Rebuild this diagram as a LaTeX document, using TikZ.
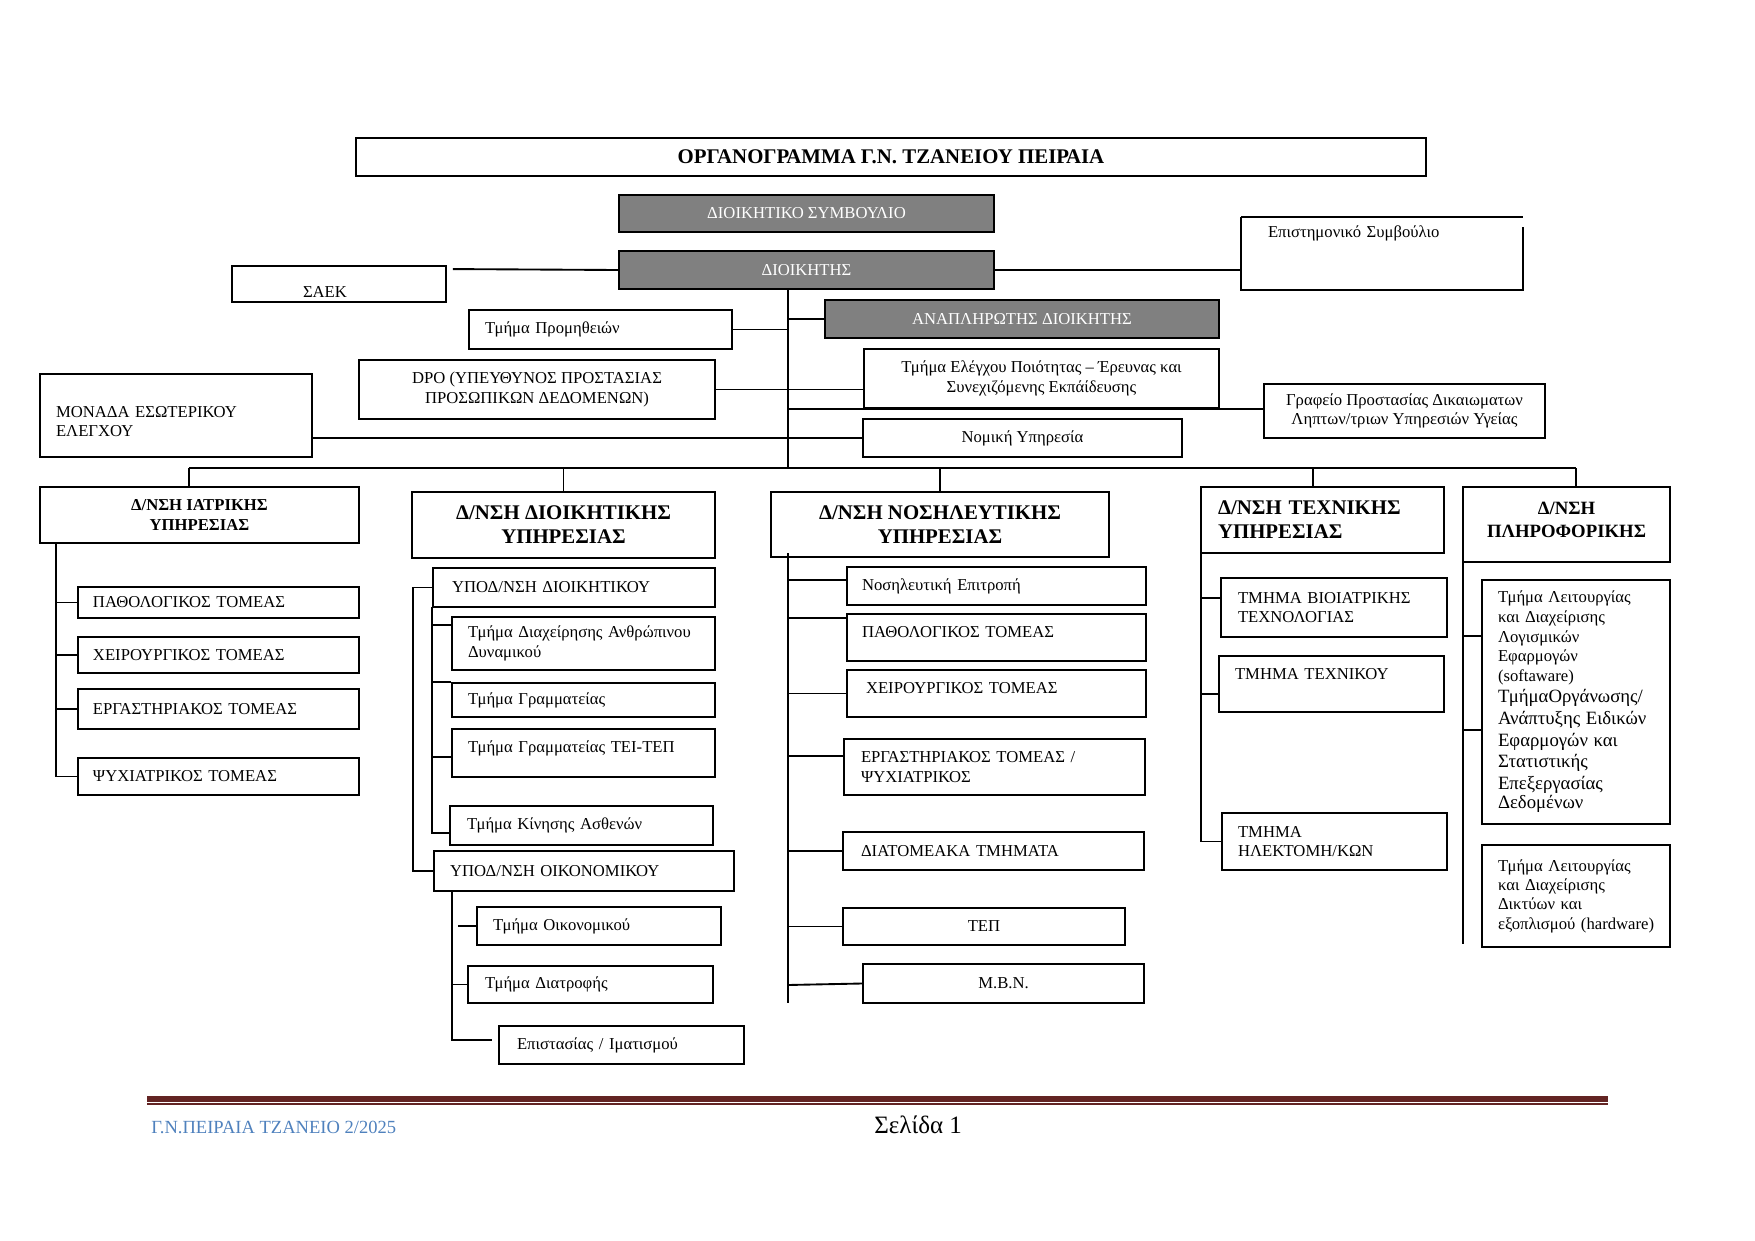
\documentclass[tikz,border=0pt]{standalone}
\usepackage{fontspec}
\setmainfont{Liberation Serif}
\usetikzlibrary{calc}
\definecolor{footred}{RGB}{99,36,35}
\definecolor{footblue}{RGB}{79,129,189}
\newcommand\px[1]{#1*0.48pt}
\newcommand\bxc[7][]{%
 \pgfmathsetlengthmacro\bxW{(#4-#2)*0.48pt}%
 \pgfmathsetlengthmacro\bxH{(#5-#3)*0.48pt}%
 \node[box,minimum width=\bxW,minimum height=\bxH,align=center,#1] (#6) at ({(#2+#4)/2},{(#3+#5)/2}) {#7};}
\newcommand\bxl[8][]{%
 \pgfmathsetlengthmacro\bxT{(#4-#2-2*#7)*0.48pt}%
 \pgfmathsetlengthmacro\bxP{#7*0.48pt}%
 \pgfmathsetlengthmacro\bxH{(#5-#3)*0.48pt}%
 \node[box,text width=\bxT,inner xsep=\bxP,minimum height=\bxH,align=left,#1] (#6) at ({(#2+#4)/2},{(#3+#5)/2}) {#8};}
\newcommand\tick[2]{\coordinate (tk) at (#1); \draw[ln] (tk) -- (tk -| #2);}
\tikzset{
 box/.style={draw=black,line width=0.9pt,fill=white,inner ysep=1pt,font=\fontsize{8}{9.3}\selectfont},
 gbox/.style={fill=black!50,text=white},
 hdr/.style={font=\bfseries\fontsize{10}{11.5}\selectfont},
 hdrs/.style={font=\bfseries\fontsize{8}{9.6}\selectfont},
 hdrp/.style={font=\bfseries\fontsize{9}{10.6}\selectfont},
 lift/.style={text height=6pt,text depth=#1},
 ln/.style={draw=black,line width=0.9pt},
}
\begin{document}
\begin{tikzpicture}[x=0.48pt,y=-0.48pt]
\useasboundingbox (0,0) rectangle (1755,1241);
% ---- top part
\bxc[font=\bfseries\fontsize{10}{12}\selectfont]{356}{138}{1426}{176}{title}{ΟΡΓΑΝΟΓΡΑΜΜΑ Γ.Ν. ΤΖΑΝΕΙΟΥ ΠΕΙΡΑΙΑ}
\bxc[gbox]{619}{195}{994}{232}{dsymb}{ΔΙΟΙΚΗΤΙΚΟ ΣΥΜΒΟΥΛΙΟ}
\bxc[gbox]{619}{251}{994}{289}{dioik}{ΔΙΟΙΚΗΤΗΣ}
\bxl[text height=13pt,text depth=0.5pt]{232}{266}{446}{302}{saek}{71}{ΣΑΕΚ}
\bxl[draw=none,text height=6pt,text depth=21.8pt]{1242}{218}{1522}{289}{epist}{26}{Επιστημονικό Συμβούλιο}
\draw[ln] (epist.north west) -- (epist.north east);
\draw[ln] ([yshift=\px{-10}]epist.north east) -- (epist.south east) -- (epist.south west) -- (epist.north west);
\bxc[gbox]{825}{300}{1219}{338}{anapl}{ΑΝΑΠΛΗΡΩΤΗΣ ΔΙΟΙΚΗΤΗΣ}
\bxl{469}{310}{732}{349}{prom}{16}{Τμήμα Προμηθειών}
\bxc{359}{360}{715}{419}{dpo}{DPO (ΥΠΕΥΘΥΝΟΣ ΠΡΟΣΤΑΣΙΑΣ\\ΠΡΟΣΩΠΙΚΩΝ ΔΕΔΟΜΕΝΩΝ)}
\bxc{864}{349}{1219}{408}{elegx}{Τμήμα Ελέγχου Ποιότητας – Έρευνας και\\Συνεχιζόμενης Εκπάίδευσης}
\bxc{1264}{384}{1545}{438}{grafeio}{Γραφείο Προστασίας Δικαιωματων\\Ληπτων/τριων Υπηρεσιών Υγείας}
\bxl[text height=11.1pt]{40}{374}{312}{457}{monada}{16}{ΜΟΝΑΔΑ ΕΣΩΤΕΡΙΚΟΥ\\ΕΛΕΓΧΟΥ}
\bxc{863}{419}{1182}{457}{nomiki}{Νομική Υπηρεσία}
% ---- directorates
\bxc[hdrs]{40}{487}{359}{543}{iatr}{Δ/ΝΣΗ ΙΑΤΡΙΚΗΣ\\ΥΠΗΡΕΣΙΑΣ}
\bxc[hdr]{412}{492}{715}{558}{dioikY}{Δ/ΝΣΗ ΔΙΟΙΚΗΤΙΚΗΣ\\ΥΠΗΡΕΣΙΑΣ}
\bxc[hdr]{771}{492}{1109}{557}{nosil}{Δ/ΝΣΗ ΝΟΣΗΛΕΥΤΙΚΗΣ\\ΥΠΗΡΕΣΙΑΣ}
\bxl[hdr]{1201}{487}{1444}{553}{techn}{17}{Δ/ΝΣΗ ΤΕΧΝΙΚΗΣ\\ΥΠΗΡΕΣΙΑΣ}
\bxl[hdrp,align=center,text height=6.2pt,text depth=15.4pt]{1463}{487}{1670}{562}{plir}{5}{Δ/ΝΣΗ\\ΠΛΗΡΟΦΟΡΙΚΗΣ}
% ---- medical
\bxl{78}{587}{359}{618}{pathI}{15}{ΠΑΘΟΛΟΓΙΚΟΣ ΤΟΜΕΑΣ}
\bxl{78}{637}{359}{673}{cheirI}{15}{ΧΕΙΡΟΥΡΓΙΚΟΣ ΤΟΜΕΑΣ}
\bxl{78}{689}{359}{729}{ergI}{15}{ΕΡΓΑΣΤΗΡΙΑΚΟΣ ΤΟΜΕΑΣ}
\bxl{78}{758}{359}{795}{psychI}{15}{ΨΥΧΙΑΤΡΙΚΟΣ ΤΟΜΕΑΣ}
% ---- administrative
\bxl{433}{568}{715}{607}{ypodD}{19}{ΥΠΟΔ/ΝΣΗ ΔΙΟΙΚΗΤΙΚΟΥ}
\bxl{452}{617}{715}{670}{diax}{16}{Τμήμα Διαχείρησης Ανθρώπινου\\Δυναμικού}
\bxl{452}{683}{715}{717}{gram}{16}{Τμήμα Γραμματείας}
\bxl[lift=6.3pt]{452}{729}{715}{777}{teitep}{16}{Τμήμα Γραμματείας ΤΕΙ-ΤΕΠ}
\bxl{450}{806}{713}{845}{kinisi}{17}{Τμήμα Κίνησης Ασθενών}
\bxl{434}{851}{734}{891}{ypodO}{16}{ΥΠΟΔ/ΝΣΗ ΟΙΚΟΝΟΜΙΚΟΥ}
\bxl{477}{907}{721}{945}{oikon}{16}{Τμήμα Οικονομικού}
\bxl{468}{966}{713}{1003}{diatr}{17}{Τμήμα Διατροφής}
\bxl{499}{1026}{744}{1064}{epistas}{18}{Επιστασίας / Ιματισμού}
% ---- nursing
\bxl{847}{567}{1146}{605}{nepitr}{15}{Νοσηλευτική Επιτροπή}
\bxl[lift=6.3pt]{847}{614}{1146}{661}{pathN}{15}{ΠΑΘΟΛΟΓΙΚΟΣ ΤΟΜΕΑΣ}
\bxl[lift=6.3pt]{847}{670}{1146}{717}{cheirN}{19}{ΧΕΙΡΟΥΡΓΙΚΟΣ ΤΟΜΕΑΣ}
\bxl{844}{739}{1145}{795}{ergN}{17}{ΕΡΓΑΣΤΗΡΙΑΚΟΣ ΤΟΜΕΑΣ /\\ΨΥΧΙΑΤΡΙΚΟΣ}
\bxl{843}{832}{1144}{870}{diatom}{18}{ΔΙΑΤΟΜΕΑΚΑ ΤΜΗΜΑΤΑ}
\bxc{843}{908}{1125}{945}{tep}{ΤΕΠ}
\bxc{863}{964}{1144}{1003}{mbn}{Μ.Β.Ν.}
% ---- technical
\bxl{1221}{578}{1447}{637}{bioi}{17}{ΤΜΗΜΑ ΒΙΟΙΑΤΡΙΚΗΣ\\ΤΕΧΝΟΛΟΓΙΑΣ}
\bxl[lift=10.6pt]{1219}{656}{1444}{712}{texnikou}{16}{ΤΜΗΜΑ ΤΕΧΝΙΚΟΥ}
\bxl{1222}{813}{1447}{870}{ilektr}{16}{ΤΜΗΜΑ\\ΗΛΕΚΤΟΜΗ/ΚΩΝ}
% ---- informatics
\bxl{1482}{580}{1670}{824}{logism}{16}{\fontsize{8}{9.4}\selectfont \mbox{Τμήμα Λειτουργίας}\\\mbox{και Διαχείρισης}\\Λογισμικών\\Εφαρμογών\\(softaware)\par\fontsize{9}{10.4}\selectfont ΤμήμαΟργάνωσης/\\\mbox{Ανάπτυξης Ειδικών}\\\mbox{Εφαρμογών και}\\Στατιστικής\\Επεξεργασίας\\Δεδομένων}
\bxl{1482}{845}{1670}{947}{hardw}{16}{\mbox{Τμήμα Λειτουργίας}\\\mbox{και Διαχείρισης}\\\mbox{Δικτύων και}\\\mbox{εξοπλισμού (hardware)}}
% ---- connectors top
\coordinate (tT) at (788,289);
\coordinate (tB) at (788,468);
\draw[ln] (tT) -- (tB);
\draw[ln] ([xshift=\px{6},yshift=\px{-4}]saek.north east) -- (dioik.west);
\draw[ln] (dioik.east) -- (dioik.east -| epist.west);
\draw[ln] (anapl.west) -- (anapl.west -| tT);
\draw[ln] (prom.east) -- (prom.east -| tT);
\draw[ln] (dpo.east) -- (dpo.east -| elegx.west);
\draw[ln] (tT |- elegx.south) -- (elegx.south -| grafeio.west);
\draw[ln] (monada.east |- nomiki.west) -- (nomiki.west);
% ---- bus
\coordinate (bL) at (189,468);
\coordinate (bR) at (1576,468);
\coordinate (bT) at (1313,468);
\draw[ln] (bL) -- (bR);
\draw[ln] (bL) -- (bL |- iatr.north);
\draw[ln] (dioikY.north) -- (dioikY.north |- bL);
\draw[ln] (nosil.north) -- (nosil.north |- bL);
\draw[ln] (bT) -- (bT |- techn.north);
\draw[ln] (bR) -- (bR |- plir.north);
% ---- medical connectors
\coordinate (vI) at (56,543);
\draw[ln] (vI) |- (psychI.west);
\foreach \n in {pathI,cheirI,ergI} {\draw[ln] (\n.west) -- (\n.west -| vI);}
% ---- administrative connectors
\coordinate (vDo) at (413,588);
\draw[ln] (ypodD.west) -- (ypodD.west -| vDo) |- (ypodO.west);
\coordinate (vDi) at (432,607);
\draw[ln] (vDi) |- ([yshift=\px{-7.5}]kinisi.west);
\tick{[yshift=\px{-9}]diax.north west}{vDi}
\tick{gram.north west}{vDi}
\tick{[yshift=\px{-4}]teitep.west}{vDi}
\coordinate (vOi) at (452,891);
\draw[ln] (vOi) |- ([xshift=\px{-6},yshift=\px{5}]epistas.west);
\draw[ln] (oikon.west) -- ([xshift=\px{-18}]oikon.west);
\tick{diatr.west}{vOi}
% ---- nursing connectors
\coordinate (vN) at (788,553);
\coordinate (vNe) at (788,1003);
\draw[ln] (vN) -- (vNe);
\tick{[yshift=\px{-14}]nepitr.north west}{vN}
\tick{[yshift=\px{-5}]pathN.north west}{vN}
\tick{cheirN.west}{vN}
\tick{[yshift=\px{-18}]ergN.north west}{vN}
\tick{diatom.west}{vN}
\tick{tep.west}{vN}
\draw[ln] (mbn.west) -- ([yshift=\px{-1.5}]mbn.west -| vN);
% ---- technical connectors
\coordinate (vT) at (1201,553);
\draw[ln] (vT) |- (ilektr.west);
\tick{[yshift=\px{-21}]bioi.north west}{vT}
\tick{[yshift=\px{-10}]texnikou.west}{vT}
% ---- informatics connectors
\coordinate (vP) at (1463,562);
\coordinate (vPe) at (1463,944);
\draw[ln] (vP) -- (vPe);
\tick{[yshift=\px{-57}]logism.north west}{vP}
\tick{[yshift=\px{-151}]logism.north west}{vP}
% ---- footer
\draw[footred,line width=\px{6}] (147,1099) -- (1608,1099);
\draw[footred,line width=0.5pt] (147,1104) -- (1608,1104);
\node[anchor=base west,inner sep=0pt,text=footblue,font=\fontsize{8.9}{11}\selectfont] (ft1) at (151,1133) {Γ.Ν.ΠΕΙΡΑΙΑ ΤΖΑΝΕΙΟ 2/2025};
\node[anchor=base west,inner sep=0pt,font=\fontsize{12}{14}\selectfont] (ft2) at (874,1133) {Σελίδα 1};
\end{tikzpicture}
\end{document}
